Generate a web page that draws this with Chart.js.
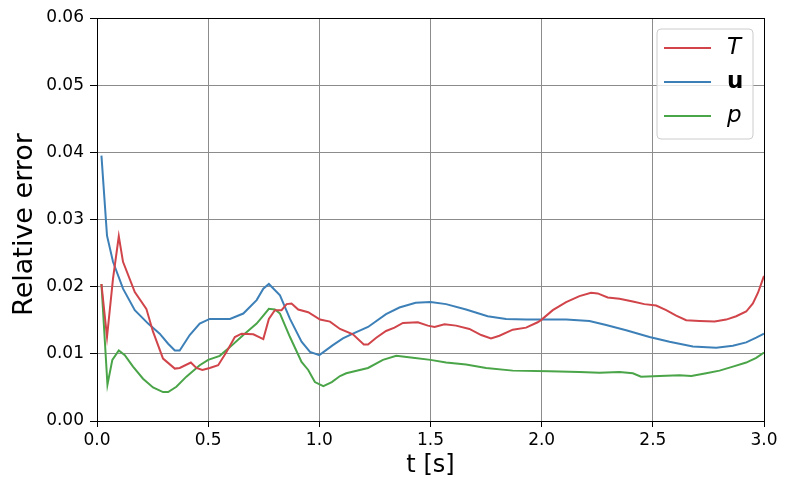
<!DOCTYPE html>
<html>
<head>
<meta charset="utf-8">
<script src="https://cdn.jsdelivr.net/npm/chart.js@4.4.1/dist/chart.umd.min.js"></script>
<style>
  html, body { margin: 0; padding: 0; background: #fff; }
  #wrap { width: 789px; height: 490px; }
</style>
</head>
<body>
<div id="wrap"><canvas id="c" width="789" height="490"></canvas></div>
<script>
// ---- data ----
const T_time = [0.02,0.045,0.072,0.098,0.117,0.17,0.222,0.252,0.297,0.35,0.372,0.422,0.447,0.474,0.507,0.545,0.583,0.62,0.65,0.703,0.748,0.773,0.80,0.83,0.853,0.875,0.905,0.95,1.003,1.048,1.093,1.151,1.20,1.219,1.256,1.30,1.338,1.376,1.443,1.488,1.518,1.563,1.615,1.675,1.728,1.772,1.81,1.87,1.93,1.982,2.0,2.05,2.11,2.17,2.222,2.252,2.297,2.35,2.41,2.462,2.515,2.56,2.605,2.65,2.71,2.778,2.83,2.875,2.92,2.95,2.973,3.0];
const T_error = [0.0204,0.0125,0.0212,0.0275,0.0237,0.0192,0.0167,0.0133,0.0093,0.0078,0.0079,0.0087,0.0079,0.0076,0.0079,0.0083,0.0103,0.0125,0.0130,0.0129,0.0122,0.0152,0.0165,0.0165,0.0174,0.0175,0.0166,0.0162,0.0151,0.0148,0.0137,0.0129,0.0114,0.0114,0.0124,0.0134,0.0139,0.0146,0.0147,0.0142,0.0140,0.0144,0.0142,0.0137,0.0128,0.0123,0.0127,0.0136,0.0139,0.0147,0.0151,0.0165,0.0177,0.0186,0.0191,0.0190,0.0184,0.0182,0.0178,0.0174,0.0172,0.0165,0.0157,0.0150,0.0149,0.0148,0.0151,0.0156,0.0163,0.0175,0.0191,0.0216];

const U_time = [0.02,0.045,0.072,0.117,0.17,0.23,0.282,0.32,0.35,0.372,0.417,0.462,0.507,0.598,0.658,0.718,0.748,0.773,0.823,0.868,0.92,0.958,1.0,1.061,1.106,1.151,1.219,1.30,1.36,1.433,1.5,1.57,1.66,1.757,1.84,1.93,2.11,2.215,2.29,2.38,2.485,2.575,2.68,2.785,2.86,2.92,2.965,3.0];
const U_error = [0.0395,0.0276,0.0237,0.0197,0.0165,0.0145,0.0130,0.0115,0.0105,0.0105,0.0128,0.0145,0.0152,0.0152,0.0160,0.0180,0.0197,0.0204,0.0187,0.0152,0.0118,0.0103,0.0098,0.0113,0.0123,0.0130,0.0140,0.0159,0.0169,0.0176,0.0177,0.0174,0.0166,0.0156,0.0152,0.0151,0.0151,0.0149,0.0143,0.0135,0.0125,0.0118,0.0111,0.0109,0.0112,0.0117,0.0124,0.0130];

const P_time = [0.02,0.047,0.069,0.098,0.125,0.162,0.207,0.252,0.297,0.32,0.357,0.402,0.462,0.5,0.552,0.598,0.658,0.718,0.748,0.773,0.80,0.823,0.868,0.92,0.95,0.98,1.018,1.056,1.093,1.121,1.219,1.286,1.346,1.421,1.5,1.57,1.66,1.75,1.87,2.034,2.17,2.26,2.35,2.41,2.447,2.53,2.62,2.673,2.74,2.80,2.86,2.92,2.965,3.0];
const P_error = [0.0204,0.0054,0.0091,0.0105,0.0098,0.0081,0.0063,0.0050,0.0043,0.0043,0.0051,0.0066,0.0083,0.0091,0.0097,0.0110,0.0128,0.0145,0.0157,0.0167,0.0166,0.0160,0.0125,0.0088,0.0076,0.0058,0.0052,0.0058,0.0067,0.0071,0.0079,0.0091,0.0097,0.0094,0.0091,0.0087,0.0084,0.0079,0.0075,0.0074,0.0073,0.0072,0.0073,0.0071,0.0066,0.0067,0.0068,0.0067,0.0071,0.0075,0.0081,0.0087,0.0094,0.0102];

const seriesLabels = ['T', 'u', 'p'];
const xTickValues = [0.0, 0.5, 1.0, 1.5, 2.0, 2.5, 3.0];
const yTickValues = [0.00, 0.01, 0.02, 0.03, 0.04, 0.05, 0.06];
const xTitle = 't [s]';
const yTitle = 'Relative error';

// ---- styling ----
const COLORS = ['#d0444a', '#3d80b8', '#4aa448'];
const FONT = '"DejaVu Sans", sans-serif';

function pts(ts, vs) { return ts.map((t, i) => ({ x: t, y: vs[i] })); }

const frameAndLegend = {
  id: 'frameAndLegend',
  afterDatasetsDraw(chart) {
    const ctx = chart.ctx;
    const a = chart.chartArea;
    ctx.save();
    // full box frame
    ctx.strokeStyle = '#000';
    ctx.lineWidth = 1;
    ctx.strokeRect(Math.round(a.left) + 0.5, Math.round(a.top) + 0.5, Math.round(a.right - a.left), Math.round(a.bottom - a.top));
    // legend
    const bx = a.right - 107, by = a.top + 11, bw = 96, bh = 110, r = 4;
    ctx.beginPath();
    ctx.moveTo(bx + r, by);
    ctx.lineTo(bx + bw - r, by); ctx.quadraticCurveTo(bx + bw, by, bx + bw, by + r);
    ctx.lineTo(bx + bw, by + bh - r); ctx.quadraticCurveTo(bx + bw, by + bh, bx + bw - r, by + bh);
    ctx.lineTo(bx + r, by + bh); ctx.quadraticCurveTo(bx, by + bh, bx, by + bh - r);
    ctx.lineTo(bx, by + r); ctx.quadraticCurveTo(bx, by, bx + r, by);
    ctx.closePath();
    ctx.fillStyle = 'rgba(255,255,255,0.8)';
    ctx.fill();
    ctx.strokeStyle = '#cccccc';
    ctx.stroke();
    const styles = ['italic 23px ' + FONT, 'bold 23px ' + FONT, 'italic 23px ' + FONT];
    chart.data.datasets.forEach((ds, i) => {
      const y = by + 19 + i * 34;
      ctx.strokeStyle = ds.borderColor;
      ctx.lineWidth = 2;
      ctx.beginPath();
      ctx.moveTo(bx + 7, y);
      ctx.lineTo(bx + 54, y);
      ctx.stroke();
      ctx.fillStyle = '#000';
      ctx.font = styles[i];
      ctx.textBaseline = 'middle';
      ctx.textAlign = 'left';
      ctx.fillText(ds.label, bx + 70, y);
    });
    // y title
    ctx.save();
    ctx.translate(32, (a.top + a.bottom) / 2 + 5);
    ctx.rotate(-Math.PI / 2);
    ctx.font = '27px ' + FONT;
    ctx.fillStyle = '#000';
    ctx.textAlign = 'center';
    ctx.textBaseline = 'alphabetic';
    ctx.fillText(yTitle, 0, 0);
    ctx.restore();
    ctx.restore();
  }
};

new Chart(document.getElementById('c'), {
  type: 'line',
  data: {
    datasets: [
      { label: seriesLabels[0], data: pts(T_time, T_error), borderColor: COLORS[0] },
      { label: seriesLabels[1], data: pts(U_time, U_error), borderColor: COLORS[1] },
      { label: seriesLabels[2], data: pts(P_time, P_error), borderColor: COLORS[2] }
    ]
  },
  options: {
    responsive: false,
    animation: false,
    devicePixelRatio: 1,
    layout: { padding: { top: 18, right: 25, left: 0, bottom: 0 } },
    elements: {
      line: { borderWidth: 2, tension: 0, fill: false },
      point: { radius: 0 }
    },
    plugins: { legend: { display: false }, tooltip: { enabled: false } },
    scales: {
      x: {
        type: 'linear',
        min: 0, max: 3,
        afterBuildTicks(s) { s.ticks = xTickValues.map(v => ({ value: v })); },
        afterFit(s) { s.height = 69; },
        grid: { color: '#8c8c8c', lineWidth: 1, tickLength: 6, tickColor: '#000', drawTicks: true },
        border: { color: '#000', width: 1 },
        ticks: {
          color: '#000', font: { family: FONT, size: 17 }, padding: 3,
          maxRotation: 0, autoSkip: false,
          callback: v => Number(v).toFixed(1)
        },
        title: { display: true, text: xTitle, color: '#000', font: { family: FONT, size: 24 }, padding: { top: 0, bottom: 10 } }
      },
      y: {
        type: 'linear',
        min: 0, max: 0.06,
        afterBuildTicks(s) { s.ticks = yTickValues.map(v => ({ value: v })); },
        afterFit(s) { s.width = 97; },
        grid: { color: '#8c8c8c', lineWidth: 1, tickLength: 7, tickColor: '#000', drawTicks: true },
        border: { color: '#000', width: 1 },
        ticks: {
          color: '#000', font: { family: FONT, size: 17 }, padding: 6,
          autoSkip: false,
          callback: v => Number(v).toFixed(2)
        },
        title: { display: false }
      }
    }
  },
  plugins: [frameAndLegend]
});
</script>
</body>
</html>
